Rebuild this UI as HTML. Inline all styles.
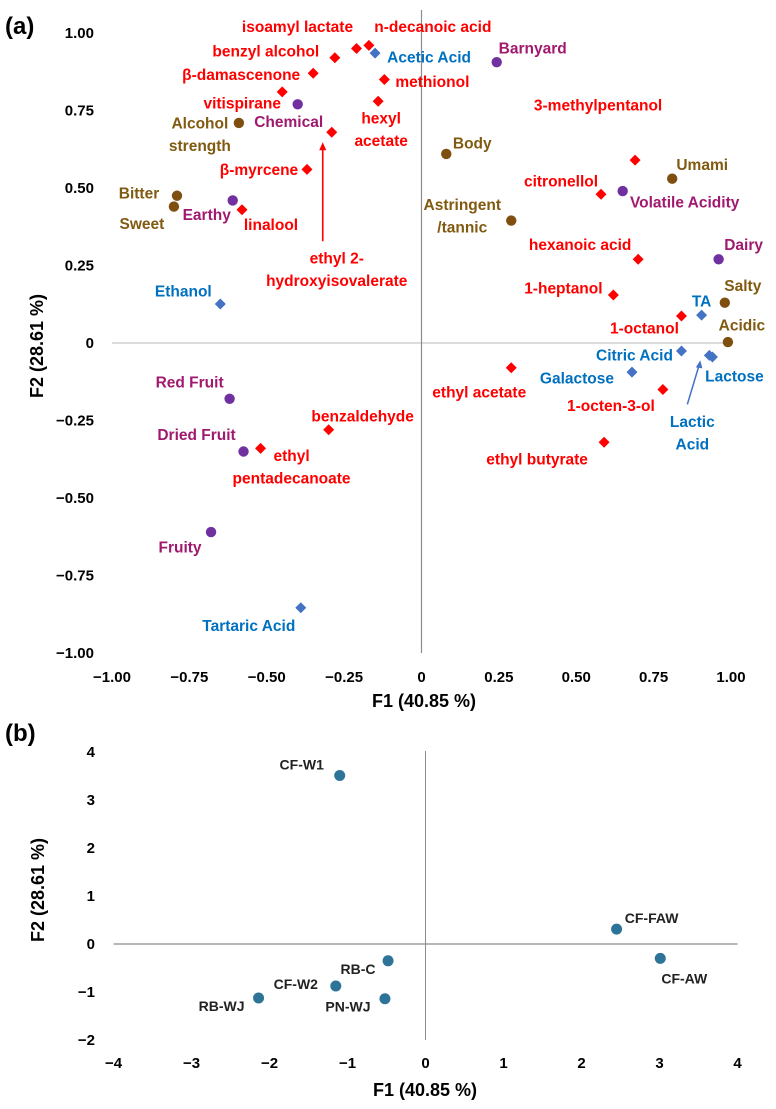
<!DOCTYPE html>
<html>
<head>
<meta charset="utf-8">
<style>
html,body{margin:0;padding:0;background:#fff;}
svg{display:block;font-family:"Liberation Sans",Arial,sans-serif;font-weight:bold;}
</style>
</head>
<body>
<svg id="chart" width="776" height="1109" viewBox="0 0 776 1109" xmlns="http://www.w3.org/2000/svg">
  <text x="5" y="34" font-size="24" fill="#000">(a)</text>
  <text x="5" y="741" font-size="24" fill="#000">(b)</text>
  <g id="ga"></g>
  <g id="gb"></g>
</svg>
<script>
// ---------- Panel (a) data ----------
const aNames = ["isoamyl lactate","n-decanoic acid","benzyl alcohol","β-damascenone","methionol","vitispirane","hexyl acetate","ethyl 2-hydroxyisovalerate","β-myrcene","linalool","3-methylpentanol","citronellol","hexanoic acid","1-heptanol","1-octanol","ethyl acetate","1-octen-3-ol","ethyl butyrate","benzaldehyde","ethyl pentadecanoate",
 "Acetic Acid","Ethanol","TA","Citric Acid","Lactose","Lactic Acid","Galactose","Tartaric Acid",
 "Barnyard","Chemical","Earthy","Volatile Acidity","Dairy","Red Fruit","Dried Fruit","Fruity",
 "Alcohol strength","Body","Bitter","Sweet","Astringent /tannic","Umami","Salty","Acidic"];
const aGroup = ["v","v","v","v","v","v","v","v","v","v","v","v","v","v","v","v","v","v","v","v",
 "c","c","c","c","c","c","c","c",
 "s","s","s","s","s","s","s","s",
 "t","t","t","t","t","t","t","t"];
const aF1 = [-0.21,-0.17,-0.28,-0.35,-0.12,-0.45,-0.14,-0.29,-0.37,-0.58,0.69,0.58,0.70,0.62,0.84,0.29,0.78,0.59,-0.30,-0.52,
 -0.15,-0.65,0.905,0.84,0.94,0.93,0.68,-0.39,
 0.243,-0.40,-0.61,0.65,0.96,-0.62,-0.575,-0.68,
 -0.59,0.08,-0.79,-0.80,0.29,0.81,0.98,0.99];
const aF2 = [0.95,0.96,0.92,0.87,0.85,0.81,0.78,0.68,0.56,0.43,0.59,0.48,0.27,0.155,0.087,-0.08,-0.15,-0.32,-0.28,-0.34,
 0.935,0.126,0.09,-0.026,-0.045,-0.04,-0.094,-0.854,
 0.906,0.77,0.46,0.49,0.27,-0.18,-0.35,-0.61,
 0.71,0.61,0.475,0.44,0.395,0.53,0.13,0.003];
const aTicks = [-1.00,-0.75,-0.50,-0.25,0,0.25,0.50,0.75,1.00];
const aTickLabels = ["−1.00","−0.75","−0.50","−0.25","0","0.25","0.50","0.75","1.00"];
// label offsets (layout, px)
const aLabelDx = [-59,64,-69,-72,48,-40,3,5,-48,29,-37,-40,-58,-50,-37,-32,-52,-67,34,31,
 54,-37,0,-47,22,-17,-55,-52,
 36,-9,-26,62,25,-40,-47,-31,
 -39,26,-38,-32,-49,30,18,14];
const aLabelDy = [-22,-19,-7,1,2,11,17,126,0,15,-55,-13,-15,-7,12,24,16,17,-14,7,
 4,-13,-14,4,19,66,6,18,
 -14,17,14,11,-15,-17,-17,15,
 0,-11,-3,17,-16,-14,-17,-17];

// ---------- Panel (b) data ----------
const bNames = ["CF-W1","CF-FAW","CF-AW","RB-C","CF-W2","RB-WJ","PN-WJ"];
const bF1 = [-1.10,2.45,3.01,-0.48,-1.15,-2.14,-0.52];
const bF2 = [3.51,0.31,-0.30,-0.35,-0.875,-1.125,-1.14];
const bXTicks = [-4,-3,-2,-1,0,1,2,3,4];
const bYTicks = [-2,-1,0,1,2,3,4];
const bLabelDx = [-38,35,24,-30,-40,-37,-37];
const bLabelDy = [-11,-11,20,8,-2,8,8];

const NS = "http://www.w3.org/2000/svg";
function mk(parent, tag, attrs, text){
  const e = document.createElementNS(NS, tag);
  for (const k in attrs) e.setAttribute(k, attrs[k]);
  if (text !== undefined) e.textContent = text;
  parent.appendChild(e);
  return e;
}

// ---------- Panel (a) ----------
const ga = document.getElementById("ga");
const ax = v => 421.5 + v * 309.5;
const ay = v => 343 - v * 310;
const markerCol = {v:"#ff0000", c:"#4472c4", s:"#7030a0", t:"#7f4f10"};
const textCol = {v:"#ff0000", c:"#0070c0", s:"#a0196e", t:"#805a10"};

let l = mk(ga, "line", {x1:ax(-1), x2:ax(1), y1:ay(0), y2:ay(0), stroke:"#c8c8c8", "stroke-width":1.3});


l = mk(ga, "line", {x1:ax(0), x2:ax(0), y1:10, y2:ay(-1), stroke:"#8c8c8c", "stroke-width":1.2});



aTicks.forEach((t,i) => {
  let e = mk(ga, "text", {x:ax(t), y:682, "text-anchor":"middle", "font-size":15, fill:"#000"}, aTickLabels[i]);
  
  
  e = mk(ga, "text", {x:94, y:ay(t)+5, "text-anchor":"end", "font-size":15, fill:"#000"}, aTickLabels[i]);
  
  
});
let t = mk(ga, "text", {x:424, y:707, "text-anchor":"middle", "font-size":18, fill:"#000"}, "F1 (40.85 %)");


t = mk(ga, "text", {x:0, y:0, transform:"translate(43,346) rotate(-90)", "text-anchor":"middle", "font-size":18, fill:"#000"}, "F2 (28.61 %)");



// arrows
const i2 = aNames.indexOf("ethyl 2-hydroxyisovalerate");
let arr = mk(ga, "line", {x1:ax(aF1[i2])-9, y1:ay(aF2[i2])+109, x2:ax(aF1[i2])-9, y2:ay(aF2[i2])+14, stroke:"#ff0000", "stroke-width":1.6});


arr = mk(ga, "polygon", {points:`${ax(aF1[i2])-9},${ay(aF2[i2])+10} ${ax(aF1[i2])-12.5},${ay(aF2[i2])+18} ${ax(aF1[i2])-5.5},${ay(aF2[i2])+18}`, fill:"#ff0000"});


const iLa = aNames.indexOf("Lactic Acid");
arr = mk(ga, "line", {x1:ax(aF1[iLa])-22, y1:ay(aF2[iLa])+49, x2:ax(aF1[iLa])-10, y2:ay(aF2[iLa])+9, stroke:"#4472c4", "stroke-width":1.5});


arr = mk(ga, "polygon", {points:`${ax(aF1[iLa])-9},${ay(aF2[iLa])+5} ${ax(aF1[iLa])-13.5},${ay(aF2[iLa])+12} ${ax(aF1[iLa])-7},${ay(aF2[iLa])+13}`, fill:"#4472c4"});



aNames.forEach((n,i) => {
  const g = aGroup[i];
  const px = ax(aF1[i]), py = ay(aF2[i]);
  let m;
  if (g === "v" || g === "c") {
    const r = 5.5;
    m = mk(ga, "polygon", {points:`${px},${py-r} ${px+r},${py} ${px},${py+r} ${px-r},${py}`, fill:markerCol[g]});
  } else {
    m = mk(ga, "circle", {cx:px, cy:py, r:5.2, fill:markerCol[g]});
  }
  
  
  const lx = px + aLabelDx[i], ly = py + aLabelDy[i];
  const parts = n === "ethyl 2-hydroxyisovalerate" ? ["ethyl 2-","hydroxyisovalerate"]
    : n === "hexyl acetate" ? ["hexyl","acetate"]
    : n === "Alcohol strength" ? ["Alcohol","strength"]
    : n === "ethyl pentadecanoate" ? ["ethyl","pentadecanoate"]
    : n === "Astringent /tannic" ? ["Astringent","/tannic"]
    : n === "Lactic Acid" ? ["Lactic","Acid"]
    : [n];
  const lab = mk(ga, "text", {x:lx, y:ly+5.5, "text-anchor":"middle", "font-size":15.5, fill:textCol[g]});
  
  
  parts.forEach((p,k) => {
    mk(lab, "tspan", {x:lx, dy: k===0 ? 0 : 22.5}, p);
  });
});

// ---------- Panel (b) ----------
const gb = document.getElementById("gb");
const bx = v => 425.5 + v * 78;
const by = v => 944 - v * 48;
l = mk(gb, "line", {x1:bx(-4), x2:bx(4), y1:by(0), y2:by(0), stroke:"#8c8c8c", "stroke-width":1.2});


l = mk(gb, "line", {x1:bx(0), x2:bx(0), y1:by(4)-1, y2:by(-2), stroke:"#8c8c8c", "stroke-width":1});


bXTicks.forEach(v => {
  const e = mk(gb, "text", {x:bx(v), y:1068, "text-anchor":"middle", "font-size":15, fill:"#000"}, v < 0 ? "−" + Math.abs(v) : String(v));
  
  
});
bYTicks.forEach(v => {
  const e = mk(gb, "text", {x:95, y:by(v)+5, "text-anchor":"end", "font-size":15, fill:"#000"}, v < 0 ? "−" + Math.abs(v) : String(v));
  
  
});
t = mk(gb, "text", {x:425, y:1096, "text-anchor":"middle", "font-size":18, fill:"#000"}, "F1 (40.85 %)");


t = mk(gb, "text", {x:0, y:0, transform:"translate(44,890) rotate(-90)", "text-anchor":"middle", "font-size":18, fill:"#000"}, "F2 (28.61 %)");


bNames.forEach((n,i) => {
  const px = bx(bF1[i]), py = by(bF2[i]);
  const c = mk(gb, "circle", {cx:px, cy:py, r:5.5, fill:"#2e7398"});
  
  
  const lab = mk(gb, "text", {x:px + bLabelDx[i], y:py + bLabelDy[i] + 5, "text-anchor":"middle", "font-size":14, fill:"#222"}, n);
  
  
});
</script>
</body>
</html>
